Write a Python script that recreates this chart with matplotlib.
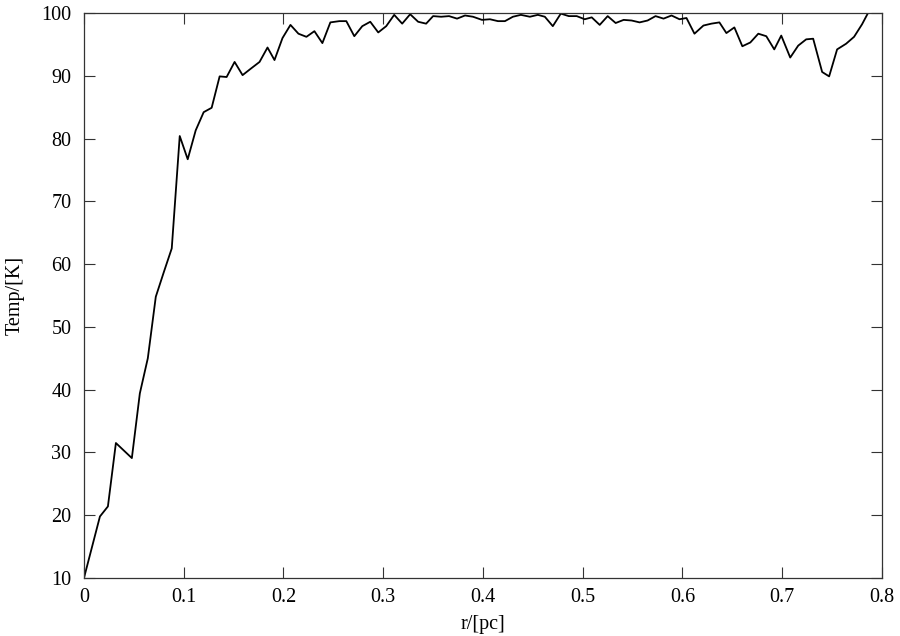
import matplotlib
matplotlib.use("Agg")
from matplotlib import pyplot as plt

# radius [pc] and temperature [K]
r_pc = [0.000, 0.016, 0.024, 0.032, 0.048, 0.056, 0.064, 0.072, 0.080, 0.088,
        0.096, 0.104, 0.112, 0.120, 0.128, 0.136, 0.143, 0.151, 0.159, 0.167,
        0.176, 0.184, 0.191, 0.199, 0.207, 0.215, 0.223, 0.231, 0.239, 0.247,
        0.256, 0.263, 0.271, 0.279, 0.287, 0.295, 0.303, 0.311, 0.319, 0.327,
        0.335, 0.343, 0.350, 0.358, 0.366, 0.374, 0.382, 0.390, 0.399, 0.407,
        0.415, 0.422, 0.430, 0.438, 0.447, 0.455, 0.462, 0.470, 0.478, 0.486,
        0.494, 0.502, 0.509, 0.517, 0.525, 0.533, 0.541, 0.549, 0.557, 0.565,
        0.573, 0.581, 0.589, 0.597, 0.604, 0.612, 0.621, 0.629, 0.637, 0.644,
        0.652, 0.660, 0.668, 0.676, 0.684, 0.692, 0.699, 0.708, 0.716, 0.724,
        0.731, 0.740, 0.747, 0.755, 0.764, 0.772, 0.780, 0.788]
temp_k = [10.0, 19.8, 21.4, 31.5, 29.1, 39.4, 45.0, 54.8, 58.7, 62.5,
          80.4, 76.7, 81.3, 84.2, 84.9, 89.9, 89.8, 92.2, 90.1, 91.1,
          92.2, 94.5, 92.5, 96.0, 98.1, 96.7, 96.2, 97.1, 95.2, 98.5,
          98.7, 98.7, 96.3, 97.9, 98.6, 96.9, 97.9, 99.7, 98.3, 99.8,
          98.6, 98.3, 99.5, 99.4, 99.5, 99.1, 99.6, 99.4, 98.9, 99.0,
          98.7, 98.7, 99.4, 99.7, 99.4, 99.7, 99.4, 97.9, 99.9, 99.5,
          99.5, 99.0, 99.3, 98.1, 99.5, 98.4, 98.9, 98.8, 98.5, 98.8,
          99.5, 99.1, 99.6, 99.0, 99.2, 96.7, 98.0, 98.3, 98.5, 96.8,
          97.7, 94.7, 95.3, 96.7, 96.3, 94.2, 96.4, 92.9, 94.8, 95.8,
          95.9, 90.6, 89.9, 94.2, 95.1, 96.2, 98.2, 100.6]

x_ticks = [0, 0.1, 0.2, 0.3, 0.4, 0.5, 0.6, 0.7, 0.8]
x_labels = ["0", "0.1", "0.2", "0.3", "0.4", "0.5", "0.6", "0.7", "0.8"]
y_ticks = [10, 20, 30, 40, 50, 60, 70, 80, 90, 100]

plt.rcParams['font.family'] = ['Liberation Serif', 'DejaVu Serif']
plt.rcParams['font.size'] = 14.5

fig = plt.figure(figsize=(9, 6.36), dpi=100)
ax = fig.add_axes([0.0933, 0.0912, 0.8867, 0.8884])

ax.plot(r_pc, temp_k, color='black', lw=1.3)

ax.set_xlim(0, 0.8)
ax.set_ylim(10, 100)
ax.set_xticks(x_ticks)
ax.set_xticklabels(x_labels)
ax.set_yticks(y_ticks)

# gnuplot style: ticks inside, mirrored on all sides
ax.tick_params(direction='in', length=8, width=0.8, color='#333333',
               top=True, right=True)
ax.tick_params(axis='y', pad=9)
ax.tick_params(axis='x', pad=7)
for s in ax.spines.values():
    s.set_color('#333333')
    s.set_linewidth(0.9)

ax.set_xlabel('r/[pc]', labelpad=6)
ax.set_ylabel('Temp/[K]', labelpad=12)

fig.savefig('out.png', dpi=100)
